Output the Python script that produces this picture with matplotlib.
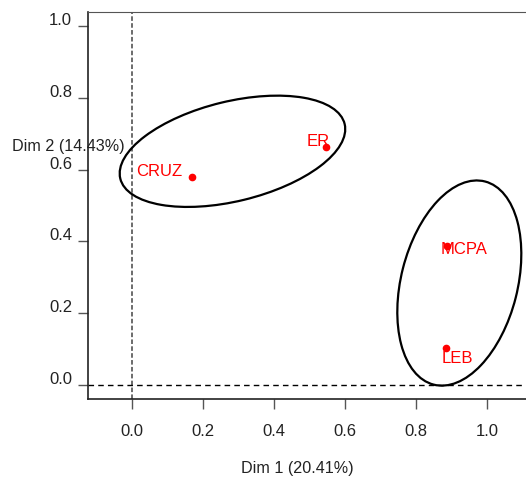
import matplotlib
matplotlib.use("Agg")
import matplotlib.pyplot as plt
import matplotlib.transforms as mtransforms
from matplotlib.patches import Ellipse
import numpy as np

plt.rcParams['font.family'] = ['Liberation Sans', 'DejaVu Sans']

# individuals (coordinates on Dim 1 / Dim 2)
names = ['CRUZ', 'ER', 'MCPA', 'LEB']
dim1 = [0.169, 0.546, 0.887, 0.885]
dim2 = [0.579, 0.663, 0.387, 0.103]

# confidence ellipses: centre, semi axes, angle (deg)
ell_x = [0.283, 0.922]
ell_y = [0.651, 0.284]
ell_a = [0.325, 0.292]
ell_b = [0.139, 0.164]
ell_ang = [13.5, 75.6]

xticks = [0.0, 0.2, 0.4, 0.6, 0.8, 1.0]
yticks = [0.0, 0.2, 0.4, 0.6, 0.8, 1.0]

# label placement (offset points, alignment)
label_pos = [(-7.2, 4.3, 'right'), (-5.8, 3.6, 'center'),
             (-4.3, -2.2, 'left'), (-3.6, -7.9, 'left')]

fig = plt.figure(figsize=(5.26, 4.79), dpi=100)
ax = fig.add_axes([88/526, 80/479, 452/526, 387/479])

x0px, sx = 132, 355.0
y0px, sy = 385, 359.0
ax.set_xlim((88 - x0px)/sx, (540 - x0px)/sx)
ax.set_ylim((y0px - 399)/sy, (y0px - 12)/sy)

ax.axvline(0, color='#444444', lw=1.1, ls=(0, (3, 1.5)), zorder=1)
ax.axhline(0, color='black', lw=1.0, ls=(0, (4, 3)), zorder=1)

for cx, cy, a, b, ang in zip(ell_x, ell_y, ell_a, ell_b, ell_ang):
    e = Ellipse((cx, cy), 2*a, 2*b, angle=ang, fill=False,
                edgecolor='black', lw=1.6, zorder=2)
    ax.add_patch(e)

ax.plot(dim1, dim2, 'o', color='red', ms=4.5, zorder=3)
for n, x, y, (dx, dy, ha) in zip(names, dim1, dim2, label_pos):
    ax.annotate(n, (x, y), xytext=(dx, dy), textcoords='offset points',
                ha=ha, va='center', color='red', fontsize=12, zorder=4)

ax.set_xticks(xticks)
ax.set_xticklabels(['%.1f' % v for v in xticks])
ax.set_yticks(yticks)
ax.set_yticklabels(['%.1f' % v for v in yticks])
ax.tick_params(axis='x', length=7.2, width=1, color='#555555', pad=10.5,
               labelsize=12, labelcolor='#222222')
ax.tick_params(axis='y', length=7.2, width=1, color='#555555', pad=4.3,
               labelsize=12, labelcolor='#222222')
off = mtransforms.ScaledTranslation(0, 7/100, fig.dpi_scale_trans)
for lab in ax.get_yticklabels():
    lab.set_transform(lab.get_transform() + off)

for s in ['left', 'bottom']:
    ax.spines[s].set_color('#222222')
    ax.spines[s].set_linewidth(1.2)
ax.spines['top'].set_color('#555555')
ax.spines['right'].set_visible(False)

fig.text(12/526, 1 - 147/479, 'Dim 2 (14.43%)', ha='left', va='center',
         fontsize=11.6, color='#222222')
fig.text(297/526, 1 - 468/479, 'Dim 1 (20.41%)', ha='center', va='center',
         fontsize=11.6, color='#222222')

fig.savefig('out.png', dpi=100)
